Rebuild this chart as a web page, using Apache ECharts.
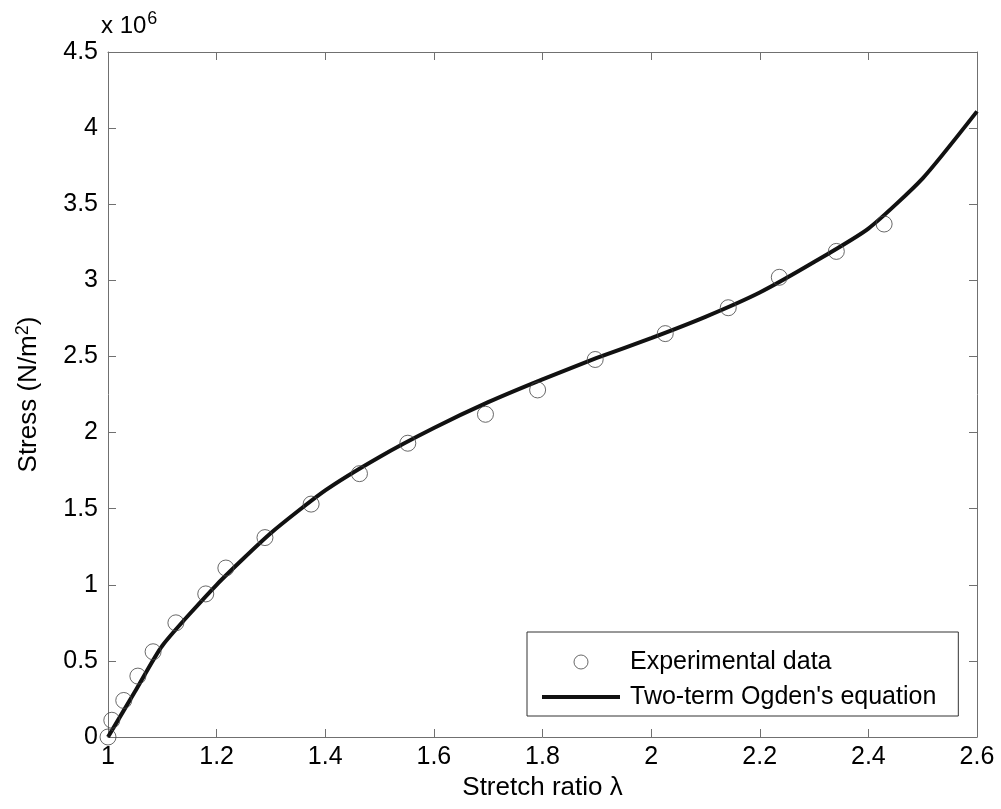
<!DOCTYPE html>
<html>
<head>
<meta charset="utf-8">
<script src="https://cdn.jsdelivr.net/npm/echarts@6/dist/echarts.min.js"></script>
<style>
  html, body { margin: 0; padding: 0; background: #fff; }
  #chart { width: 1001px; height: 809px; }
</style>
</head>
<body>
<div id="chart"></div>
<script>
// stretch ratio / stress (x 10^6 N/m^2)
var expStretch = [1.0, 1.007, 1.029, 1.055, 1.083, 1.125, 1.18, 1.217, 1.289, 1.374,
                  1.463, 1.552, 1.695, 1.791, 1.897, 2.026, 2.142, 2.236, 2.341, 2.429];
var expStress = [0.0, 0.11, 0.24, 0.40, 0.56, 0.75, 0.94, 1.11, 1.31, 1.53,
                 1.73, 1.93, 2.12, 2.28, 2.48, 2.65, 2.82, 3.02, 3.19, 3.37];

var fitStretch = [1.0, 1.05, 1.1, 1.2, 1.3, 1.4, 1.5, 1.6, 1.7, 1.8,
                  1.9, 2.0, 2.1, 2.2, 2.3, 2.4, 2.5, 2.6];
var fitStress = [0.0, 0.30, 0.60, 1.0, 1.34, 1.62, 1.84, 2.03, 2.20, 2.35,
                 2.49, 2.62, 2.76, 2.92, 3.12, 3.34, 3.67, 4.11];

var xTicks = { min: 1, max: 2.6, interval: 0.2 };
var yTicks = { min: 0, max: 4.5, interval: 0.5 };

function pairs(xs, ys) {
    var out = [];
    for (var i = 0; i < xs.length; i++) {
        out.push([xs[i], ys[i]]);
    }
    return out;
}

var axisColor = '#707070';
var font = 'Liberation Sans, Arial, sans-serif';
var circleStyle = { color: 'rgba(0,0,0,0)', borderColor: '#444', borderWidth: 1 };

function boxAxis(pos, ticks, showLabels) {
    return {
        type: 'value',
        position: pos,
        min: ticks.min,
        max: ticks.max,
        interval: ticks.interval,
        splitLine: { show: false },
        axisLine: { show: true, onZero: false, lineStyle: { color: axisColor, width: 1 } },
        axisTick: { show: true, inside: true, length: 8, lineStyle: { color: axisColor } },
        axisLabel: { show: showLabels, color: '#000', fontSize: 25, fontFamily: font, margin: 10 }
    };
}

var xBottom = boxAxis('bottom', xTicks, true);
xBottom.name = 'Stretch ratio \u03bb';
xBottom.nameLocation = 'middle';
xBottom.nameGap = 35;
xBottom.nameTextStyle = { color: '#000', fontSize: 26, fontFamily: font, verticalAlign: 'top' };
xBottom.axisLabel.margin = 8;

var yLeft = boxAxis('left', yTicks, true);
yLeft.name = '{a|Stress (N/m}{s|2}{a|)}';
yLeft.nameLocation = 'middle';
yLeft.nameGap = 64;
yLeft.nameTextStyle = {
    rich: {
        a: { color: '#000', fontSize: 26, fontFamily: font },
        s: { color: '#000', fontSize: 18, fontFamily: font, verticalAlign: 'top', padding: [0, 0, 12, 0] }
    }
};

var chart = echarts.init(document.getElementById('chart'));
chart.setOption({
    backgroundColor: '#fff',
    animation: false,
    grid: { left: 108, right: 24, top: 52, bottom: 72, containLabel: false },
    xAxis: [xBottom, boxAxis('top', xTicks, false)],
    yAxis: [yLeft, boxAxis('right', yTicks, false)],
    graphic: [{
        type: 'text',
        left: 101,
        top: 10,
        style: {
            text: '{a|x 10}{s|6}',
            rich: {
                a: { fontSize: 24, fontFamily: font, fill: '#000' },
                s: { fontSize: 18, fontFamily: font, fill: '#000', verticalAlign: 'top', padding: [0, 0, 14, 1] }
            }
        }
    }],
    legend: {
        left: 527,
        top: 632,
        orient: 'vertical',
        padding: [17, 22, 6, 15],
        borderColor: '#333',
        borderWidth: 1,
        backgroundColor: '#fff',
        itemWidth: 78,
        itemHeight: 14,
        itemGap: 9,
        textStyle: { color: '#000', fontSize: 25, fontFamily: font, lineHeight: 26, padding: [0, 0, 0, 5] },
        data: [
            { name: 'Experimental data', icon: 'circle', itemStyle: circleStyle },
            { name: "Two-term Ogden's equation", icon: 'path://M0,0H78V4H0Z', itemStyle: { color: '#111' } }
        ]
    },
    series: [{
        name: "Two-term Ogden's equation",
        type: 'line',
        data: pairs(fitStretch, fitStress),
        smooth: 0.2,
        showSymbol: false,
        symbol: 'none',
        lineStyle: { color: '#111', width: 4 },
        itemStyle: { color: '#111' },
        z: 3
    }, {
        name: 'Experimental data',
        type: 'scatter',
        data: pairs(expStretch, expStress),
        symbol: 'circle',
        symbolSize: 16,
        itemStyle: circleStyle,
        z: 4
    }]
});
</script>
</body>
</html>
